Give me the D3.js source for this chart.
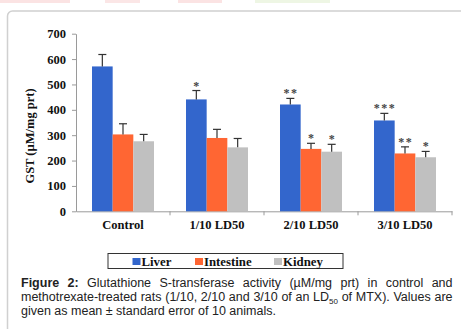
<!DOCTYPE html>
<html><head><meta charset="utf-8">
<script src="https://cdn.jsdelivr.net/npm/d3@7"></script>
<style>body{margin:0;background:#fff}svg{display:block}</style>
</head><body>
<svg id="c" width="461" height="329"></svg>
<script>
const categories = ["Control", "1/10 LD50", "2/10 LD50", "3/10 LD50"];
const seriesNames = ["Liver", "Intestine", "Kidney"];
const liver = [571, 441, 421, 358];
const intestine = [303, 289, 246, 228];
const kidney = [276, 252, 235, 213];
const liverErr = [47, 35, 24, 28];
const intestineErr = [42, 34, 22, 26];
const kidneyErr = [27, 35, 29, 23];
const liverStars = ["", "*", "**", "***"];
const intestineStars = ["", "", "*", "**"];
const kidneyStars = ["", "", "*", "*"];
const yTicks = [0, 100, 200, 300, 400, 500, 600, 700];
const colors = ["#3366CC", "#FF6633", "#C0C0C0"];

const values = [liver, intestine, kidney];
const errs = [liverErr, intestineErr, kidneyErr];
const stars = [liverStars, intestineStars, kidneyStars];

const svg = d3.select("#c");
const serif = "Liberation Serif, Times New Roman, serif";

// faint header remnants
const hdr = [[0,70,"#fbe3e3"],[105,140,"#fbe6e6"],[178,222,"#fbe3e3"],[255,330,"#eef6e4"]];
hdr.forEach(h => svg.append("rect").attr("x", h[0]).attr("y", 0).attr("width", h[1]-h[0]).attr("height", 3).attr("fill", h[2]));

// frame
svg.append("rect").attr("x", 7.5).attr("y", 11).attr("width", 480).attr("height", 340)
  .attr("rx", 5).attr("fill", "none").attr("stroke", "#d0d0d0").attr("stroke-width", 1.5);

const x0 = 76, x1 = 452, yTop = 33.7, yBot = 211.3;
const x = d3.scaleBand().domain(categories).range([x0, x1]).paddingInner(0).paddingOuter(0);
const y = d3.scaleLinear().domain([0, 700]).range([yBot, yTop]);
const xs = d3.scaleBand().domain(seriesNames).range([0, 62]);
const groupOffset = (x.bandwidth() - 62) / 2;

// y axis
const yAxis = d3.axisLeft(y).tickValues(yTicks).tickSize(4).tickSizeOuter(0);
const gy = svg.append("g").attr("transform", `translate(${x0},0)`).call(yAxis);
gy.select(".domain").attr("stroke", "#9a9a9a");
gy.selectAll(".tick line").attr("stroke", "#9a9a9a");
gy.selectAll(".tick text").attr("font-family", serif)
  .attr("font-weight", "bold").attr("font-size", 12.5).attr("fill", "#111").attr("x", -10);

// x axis
const xAxis = d3.axisBottom(x).tickSize(0).tickSizeOuter(0);
const gx = svg.append("g").attr("transform", `translate(0,${yBot})`).call(xAxis);
gx.select(".domain").attr("stroke", "#9a9a9a");
gx.selectAll(".tick text").attr("font-family", serif)
  .attr("font-weight", "bold").attr("font-size", 12.5).attr("fill", "#111").attr("dy", 0).attr("y", 17.5);
// category separators
const seps = categories.map(c => x(c) + x.bandwidth());
svg.selectAll("line.sep").data(seps).enter().append("line")
  .attr("x1", d => d).attr("x2", d => d).attr("y1", yBot).attr("y2", yBot + 4)
  .attr("stroke", "#9a9a9a");

// bars
seriesNames.forEach((s, si) => {
  categories.forEach((c, ci) => {
    const bx = x(c) + groupOffset + xs(s);
    const bw = xs.bandwidth();
    const v = values[si][ci];
    svg.append("rect").attr("x", bx).attr("y", y(v)).attr("width", bw).attr("height", yBot - y(v))
      .attr("fill", colors[si]);
    const cx = bx + bw / 2;
    const top = y(v + errs[si][ci]);
    svg.append("line").attr("x1", cx).attr("x2", cx).attr("y1", y(v)).attr("y2", top)
      .attr("stroke", "#333").attr("stroke-width", 1.2);
    svg.append("line").attr("x1", cx - 4).attr("x2", cx + 4).attr("y1", top).attr("y2", top)
      .attr("stroke", "#333").attr("stroke-width", 1.2);
    if (stars[si][ci]) {
      svg.append("text").attr("x", cx + 0.75).attr("y", top - 1).attr("text-anchor", "middle")
        .attr("font-family", serif).attr("font-weight", "bold").attr("font-size", 12)
        .attr("letter-spacing", 1.5).attr("fill", "#444").text(stars[si][ci]);
    }
  });
});

// y title
svg.append("text").attr("transform", "translate(34,136) rotate(-90)").attr("text-anchor", "middle")
  .attr("font-family", serif).attr("font-weight", "bold")
  .attr("font-size", 12.5).attr("fill", "#111").text("GST (µM/mg prt)");

// legend
svg.append("rect").attr("x", 108).attr("y", 253.5).attr("width", 235).attr("height", 15)
  .attr("fill", "#fff").attr("stroke", "#333").attr("stroke-width", 1);
const legX = [132.5, 195, 274];
seriesNames.forEach((s, i) => {
  svg.append("rect").attr("x", legX[i]).attr("y", 258).attr("width", 8).attr("height", 7).attr("fill", colors[i]);
  svg.append("text").attr("x", legX[i] + 9).attr("y", 265.5).attr("font-family", serif)
    .attr("font-weight", "bold").attr("font-size", 12.8).attr("fill", "#111").text(s);
});

// caption (justified lines via word-spacing)
const cap = svg.append("g").attr("font-family", "Liberation Sans, Arial, sans-serif").attr("font-size", 12.5).attr("fill", "#222");
const capX = 21, capW = 431.5;
function justify(t) {
  const txt = t.text();
  const n = (txt.match(/ /g) || []).length;
  const w = t.node().getComputedTextLength();
  if (n > 0 && w < capW) t.attr("word-spacing", (capW - w) / n);
}
const t1 = cap.append("text").attr("x", capX).attr("y", 287);
t1.append("tspan").attr("font-weight", "bold").text("Figure 2:");
t1.append("tspan").text(" Glutathione S-transferase activity (µM/mg prt) in control and");
justify(t1);
const t2 = cap.append("text").attr("x", capX).attr("y", 301);
t2.append("tspan").text("methotrexate-treated rats (1/10, 2/10 and 3/10 of an LD");
t2.append("tspan").attr("font-size", 8).attr("dy", 3).text("50");
t2.append("tspan").attr("dy", -3).text(" of MTX). Values are");
justify(t2);
cap.append("text").attr("x", capX).attr("y", 314.5).text("given as mean ± standard error of 10 animals.");
</script>
</body></html>
